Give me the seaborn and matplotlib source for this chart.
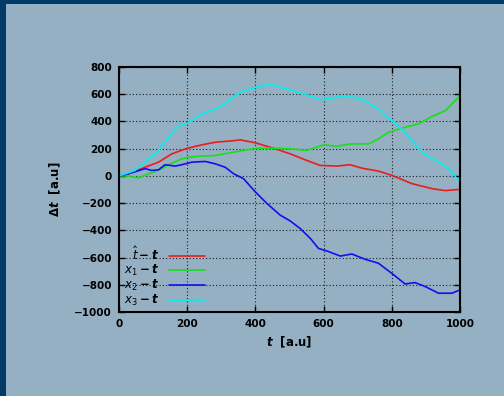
import matplotlib
matplotlib.use("Agg")
import matplotlib.pyplot as plt
import seaborn as sns
import pandas as pd
from matplotlib.patches import Rectangle

# ---- data ----
t_hat = [0, 28, 77, 116, 155, 200, 243, 282, 341, 355, 400, 453, 502, 551, 590, 639, 678, 712, 761, 800, 859, 918, 957, 1000]
v_hat = [0, 16, 64, 101, 162, 203, 228, 247, 260, 265, 243, 203, 162, 113, 77, 72, 82, 57, 35, 4, -57, -94, -108, -99]

t_x1 = [0, 28, 57, 87, 116, 145, 184, 223, 282, 326, 400, 453, 502, 551, 600, 639, 678, 732, 761, 790, 839, 878, 918, 957, 1000]
v_x1 = [0, 0, -16, 16, 40, 82, 126, 143, 150, 170, 203, 203, 199, 187, 228, 218, 235, 235, 272, 320, 357, 382, 437, 479, 589]

t_x2 = [0, 28, 77, 96, 116, 135, 165, 184, 214, 253, 282, 311, 336, 365, 400, 434, 473, 502, 531, 561, 585, 610, 649, 683, 722, 761, 800, 839, 868, 898, 937, 976, 1000]
v_x2 = [0, 16, 53, 40, 45, 82, 72, 82, 101, 106, 89, 64, 16, -20, -118, -203, -289, -331, -386, -459, -533, -552, -589, -574, -613, -642, -716, -794, -784, -813, -862, -862, -838]

t_x3 = [0, 47, 87, 116, 145, 175, 200, 243, 282, 311, 341, 365, 400, 443, 492, 541, 590, 619, 668, 712, 761, 800, 839, 888, 937, 966, 1000]
v_x3 = [0, 40, 126, 186, 284, 369, 386, 455, 491, 528, 589, 625, 650, 674, 638, 601, 560, 569, 589, 565, 491, 406, 320, 174, 101, 53, -45]

labels = [r"$\boldsymbol{\hat{t}-t}$", r"$\boldsymbol{x_1-t}$",
          r"$\boldsymbol{x_2-t}$", r"$\boldsymbol{x_3-t}$"]
colors = ["#EC1C1C", "#18E018", "#1010F0", "#00F0F0"]
x_ticks = [0, 200, 400, 600, 800, 1000]
y_ticks = [-1000, -800, -600, -400, -200, 0, 200, 400, 600, 800]

BG = "#95AFC3"
DARK = "#003A66"

sns.set_style("ticks")
plt.rcParams["font.family"] = ["DejaVu Sans"]
plt.rcParams["mathtext.fontset"] = "dejavusans"
plt.rcParams["text.color"] = "black"
plt.rcParams["axes.labelcolor"] = "black"

fig = plt.figure(figsize=(5.04, 3.96), dpi=100, facecolor=BG)
fig.patches.append(Rectangle((0, 0), 6 / 504, 1, transform=fig.transFigure,
                             facecolor=DARK, edgecolor="none", zorder=0))
fig.patches.append(Rectangle((0, 1 - 4 / 396), 1, 4 / 396, transform=fig.transFigure,
                             facecolor=DARK, edgecolor="none", zorder=0))

ax = fig.add_axes([119 / 504, 84 / 396, 341 / 504, 245 / 396])
ax.set_facecolor(BG)

series = [(t_hat, v_hat), (t_x1, v_x1), (t_x2, v_x2), (t_x3, v_x3)]
for (tt, vv), lab, col in zip(series, labels, colors):
    df = pd.DataFrame({"t": tt, "v": vv})
    sns.lineplot(data=df, x="t", y="v", ax=ax, color=col, linewidth=1.2, label=lab)

ax.set_xlim(0, 1000)
ax.set_ylim(-1000, 800)
ax.set_xticks(x_ticks)
ax.set_yticks(y_ticks)
ax.grid(True, color="#202020", linestyle=(0, (1, 2)), linewidth=0.8)
for s in ax.spines.values():
    s.set_visible(True)
    s.set_color("black")
    s.set_linewidth(1.5)
ax.tick_params(direction="in", length=4, width=1, top=True, right=True,
               labelsize=7.5, colors="black", labelcolor="black", pad=5)
for lab in ax.get_xticklabels() + ax.get_yticklabels():
    lab.set_fontweight("bold")
    lab.set_color("black")

ax.set_xlabel(r"$\boldsymbol{t}$  [a.u]", fontsize=8.5, fontweight="bold",
              labelpad=4, color="black")
ax.set_ylabel(r"$\boldsymbol{\Delta t}$  [a.u]", fontsize=8.5, fontweight="bold",
              labelpad=8, color="black")

leg = ax.legend(loc="lower right", bbox_to_anchor=(0.262, 0.0), frameon=False,
                markerfirst=False, handlelength=3.0, handletextpad=0.9,
                labelspacing=0.0, borderaxespad=0.1, borderpad=0.2, fontsize=8.5)
for t in leg.get_texts():
    t.set_color("black")

fig.savefig("out.png", dpi=100, facecolor=BG)
